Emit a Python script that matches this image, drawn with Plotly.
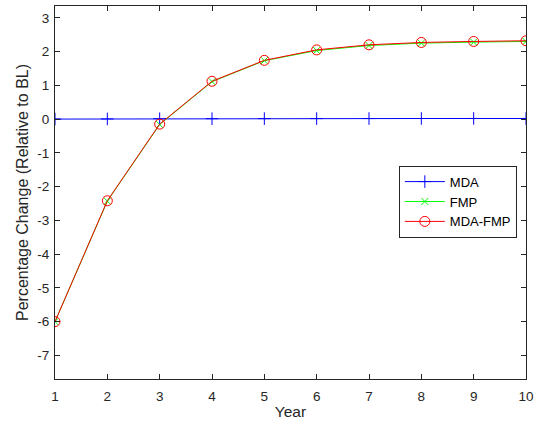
import plotly.graph_objects as go

# Years and percentage change relative to baseline
years = [1, 2, 3, 4, 5, 6, 7, 8, 9, 10]
mda = [0.0, 0.005, 0.01, 0.012, 0.014, 0.015, 0.016, 0.017, 0.018, 0.018]
fmp = [-6.0, -2.43, -0.16, 1.11, 1.73, 2.03, 2.18, 2.25, 2.28, 2.30]
mda_fmp = [-6.0, -2.42, -0.15, 1.12, 1.74, 2.05, 2.20, 2.27, 2.30, 2.32]

y_ticks = [-7, -6, -5, -4, -3, -2, -1, 0, 1, 2, 3]
y_labels = [str(v) for v in y_ticks]
x_labels = [str(v) for v in years]

fig = go.Figure()
fig.add_trace(go.Scatter(
    x=years, y=mda, name="MDA", mode="lines+markers",
    line=dict(color="#0000FF", width=1),
    marker=dict(symbol="cross-thin-open", size=9, color="#0000FF",
                line=dict(color="#0000FF", width=1)),
))
fig.add_trace(go.Scatter(
    x=years, y=fmp, name="FMP", mode="lines+markers",
    line=dict(color="#00FF00", width=1),
    marker=dict(symbol="x-thin-open", size=7, color="#00FF00",
                line=dict(color="#00FF00", width=1)),
))
fig.add_trace(go.Scatter(
    x=years, y=mda_fmp, name="MDA-FMP", mode="lines+markers",
    line=dict(color="#FF0000", width=1),
    marker=dict(symbol="circle-open", size=10, color="#FF0000",
                line=dict(color="#FF0000", width=1)),
))

axis_common = dict(
    showgrid=False, zeroline=False, showline=True, mirror="ticks",
    linecolor="#262626", linewidth=1, ticks="inside", ticklen=5,
    tickcolor="#262626", tickfont=dict(size=13.5, color="#262626"),
)

fig.update_xaxes(range=[1, 10], tickvals=years, ticktext=x_labels,
                 ticklabelstandoff=5,
                 title=dict(text="Year", font=dict(size=15.5, color="#262626"), standoff=2),
                 **axis_common)
fig.update_yaxes(range=[-7.7, 3.35], tickvals=y_ticks, ticktext=y_labels,
                 ticklabelstandoff=2,
                 title=dict(text="Percentage Change (Relative to BL)",
                            font=dict(size=16, color="#262626"), standoff=4),
                 **axis_common)

fig.update_layout(
    width=539, height=427,
    margin=dict(l=55, r=10, t=5, b=48),
    paper_bgcolor="white", plot_bgcolor="white",
    font=dict(family="Liberation Sans, Arial, sans-serif", color="#262626"),
    legend=dict(x=0.73, y=0.572, xanchor="left", yanchor="top",
                bgcolor="white", bordercolor="#262626", borderwidth=1,
                font=dict(size=13, color="#000000"), itemwidth=40,
                tracegroupgap=0),
    showlegend=True,
)

fig.write_html("out.html")
